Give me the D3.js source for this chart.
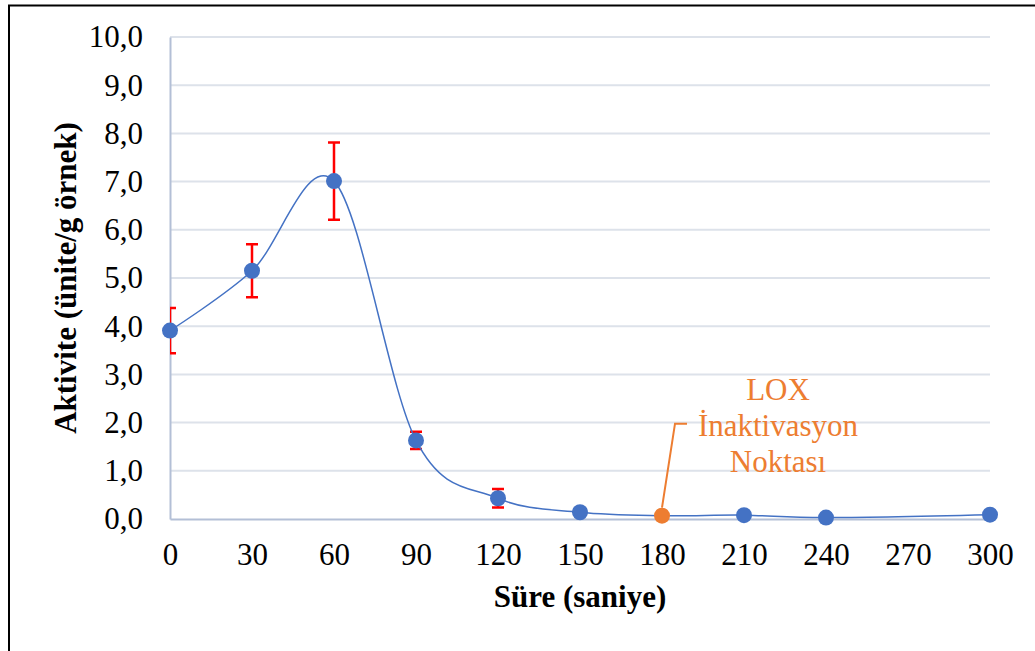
<!DOCTYPE html>
<html>
<head>
<meta charset="utf-8">
<script src="https://cdn.jsdelivr.net/npm/d3@7"></script>
<style>
  body { margin: 0; background: #fff; }
  text { font-family: "Liberation Serif", "Times New Roman", serif; }
</style>
</head>
<body>
<div id="container"></div>
<script>
/* CONSTANTS AND GLOBALS */
const width = 1035,
  height = 651,
  margin = {top: 37, right: 45, bottom: 132, left: 170},
  radius = 8;

/* DATA */
const times = [0, 30, 60, 90, 120, 150, 180, 210, 240, 300];
const activity = [3.91, 5.15, 7.01, 1.63, 0.43, 0.14, 0.07, 0.08, 0.03, 0.09];
const errors = [0.47, 0.55, 0.80, 0.18, 0.19, null, null, null, null, null];
const xTicks = [0, 30, 60, 90, 120, 150, 180, 210, 240, 270, 300];
const yTicks = [0, 1, 2, 3, 4, 5, 6, 7, 8, 9, 10];
const inactivationTime = 180;
const noteLines = ["LOX", "İnaktivasyon", "Noktası"];

const data = times.map((t, i) => ({t: t, v: activity[i], e: errors[i]}));

const comma = d3.formatLocale({decimal: ",", thousands: ".", grouping: [3], currency: ["", ""]}).format(".1f");

/* SCALES */
const xScale = d3.scaleLinear()
  .domain([0, 300])
  .range([margin.left, width - margin.right]);

const yScale = d3.scaleLinear()
  .domain([0, 10])
  .range([height - margin.bottom, margin.top]);

/* SVG */
const svg = d3.select("#container")
  .append("svg")
  .attr("width", width)
  .attr("height", height);

// frame
svg.append("path")
  .attr("d", "M9,660 L9,5.5 L1040,5.5")
  .attr("fill", "none")
  .attr("stroke", "#000")
  .attr("stroke-width", 2);

svg.append("clipPath")
  .attr("id", "plotclip")
  .append("rect")
  .attr("x", margin.left)
  .attr("y", margin.top - 10)
  .attr("width", width - margin.left - margin.right)
  .attr("height", height - margin.top - margin.bottom + 20);

// gridlines
svg.append("g")
  .selectAll("line")
  .data(yTicks.filter(d => d > 0))
  .join("line")
  .attr("x1", margin.left)
  .attr("x2", width - margin.right)
  .attr("y1", d => yScale(d))
  .attr("y2", d => yScale(d))
  .attr("stroke", "#dde2ea")
  .attr("stroke-width", 2);

// axes
const yAxis = svg.append("g")
  .attr("transform", `translate(${margin.left},0)`)
  .call(d3.axisLeft(yScale).tickValues(yTicks).tickFormat(comma).tickSize(0).tickPadding(27));

const xAxis = svg.append("g")
  .attr("transform", `translate(0,${height - margin.bottom})`)
  .call(d3.axisBottom(xScale).tickValues(xTicks).tickFormat(d3.format("d")).tickSize(0).tickPadding(24));

[xAxis, yAxis].forEach(g => {
  g.attr("font-family", null);
  g.select(".domain").attr("stroke", "#b3bfd6").attr("stroke-width", 2);
  g.selectAll("text")
    .attr("font-size", 31)
    .attr("fill", "#000");
});

// axis titles
svg.append("text")
  .attr("x", (margin.left + width - margin.right) / 2)
  .attr("y", 607)
  .attr("text-anchor", "middle")
  .attr("font-size", 31)
  .attr("font-weight", "bold")
  .text("Süre (saniye)");

svg.append("text")
  .attr("transform", "translate(76,278) rotate(-90)")
  .attr("text-anchor", "middle")
  .attr("font-size", 31)
  .attr("font-weight", "bold")
  .text("Aktivite (ünite/g örnek)");

// error bars
const errs = svg.append("g")
  .attr("clip-path", "url(#plotclip)")
  .selectAll("g")
  .data(data.filter(d => d.e != null))
  .join("g")
  .attr("stroke", "#ff0000")
  .attr("stroke-width", 2.5)
  .attr("fill", "none");

errs.append("path")
  .attr("d", d => {
    const x = xScale(d.t), y1 = yScale(d.v + d.e), y0 = yScale(d.v - d.e);
    return `M${x - 6},${y1}H${x + 6}M${x},${y1}V${y0}M${x - 6},${y0}H${x + 6}`;
  });

// smoothed line
const line = d3.line()
  .x(d => xScale(d.t))
  .y(d => yScale(d.v))
  .curve(d3.curveCatmullRom.alpha(0));

svg.append("path")
  .datum(data)
  .attr("d", line)
  .attr("fill", "none")
  .attr("stroke", "#4472c4")
  .attr("stroke-width", 1.5);

// markers
svg.append("g")
  .selectAll("circle")
  .data(data)
  .join("circle")
  .attr("cx", d => xScale(d.t))
  .attr("cy", d => yScale(d.v))
  .attr("r", radius)
  .attr("fill", d => d.t === inactivationTime ? "#ed7d31" : "#4472c4");

// annotation
const pt = data.find(d => d.t === inactivationTime);
const px = xScale(pt.t), py = yScale(pt.v);
svg.append("path")
  .attr("d", `M${px},${py - radius} L${px + 13},${py - 92} L${px + 25},${py - 92}`)
  .attr("fill", "none")
  .attr("stroke", "#ed7d31")
  .attr("stroke-width", 2);

svg.append("g")
  .selectAll("text")
  .data(noteLines)
  .join("text")
  .attr("x", px + 116)
  .attr("y", (d, i) => 400 + i * 36)
  .attr("text-anchor", "middle")
  .attr("font-size", 31)
  .attr("fill", "#ed7d31")
  .text(d => d);
</script>
</body>
</html>
